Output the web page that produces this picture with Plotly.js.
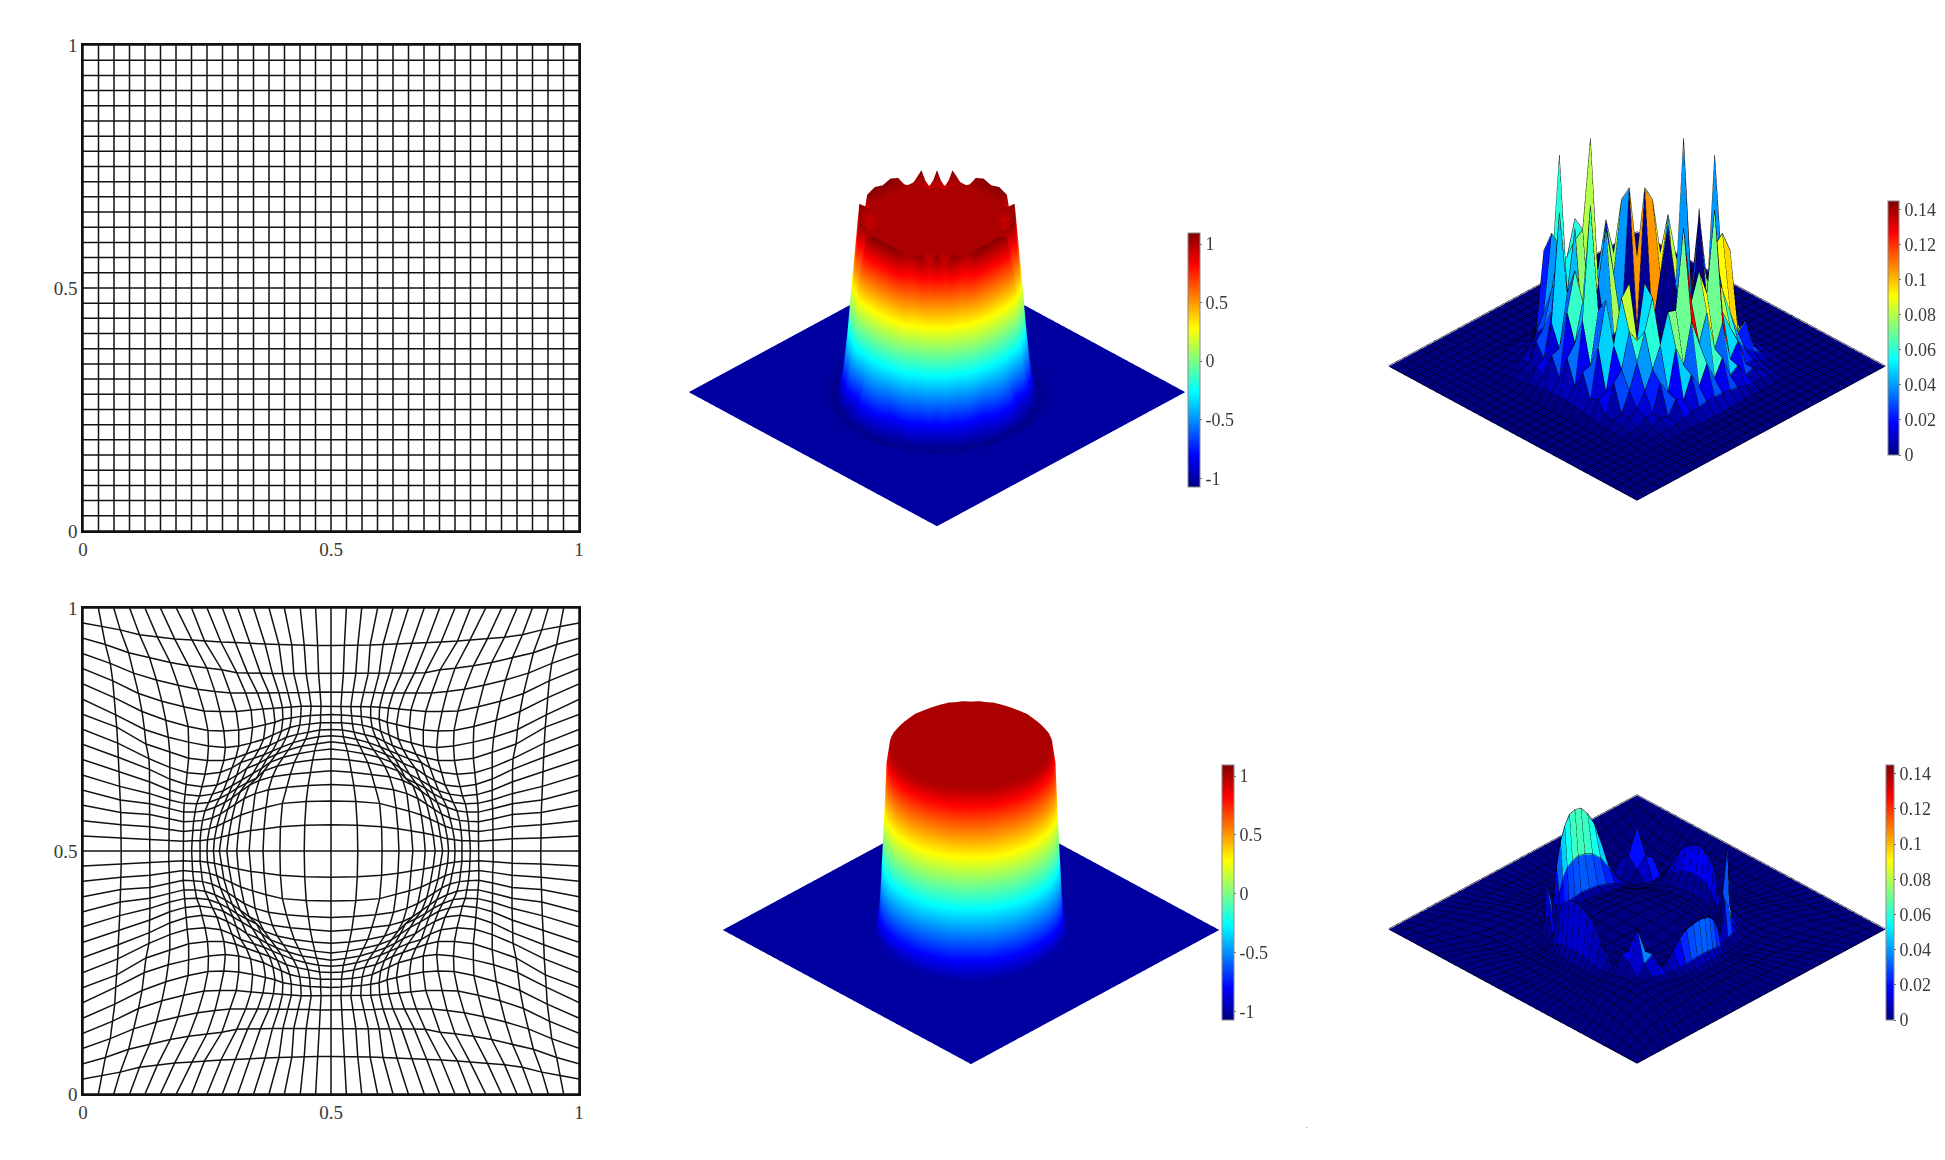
<!DOCTYPE html>
<html><head><meta charset="utf-8"><style>html,body{margin:0;padding:0;background:#fff}</style>
<script src="https://cdn.plot.ly/plotly-3.0.0.min.js"></script></head>
<body><div id="chart" style="width:1945px;height:1160px"></div>
<script>
// uniform mesh node positions (33 per side)
const uniformNodes=[0,.03125,.0625,.09375,.125,.15625,.1875,.21875,.25,.28125,.3125,.34375,.375,.40625,.4375,.46875,.5,.53125,.5625,.59375,.625,.65625,.6875,.71875,.75,.78125,.8125,.84375,.875,.90625,.9375,.96875,1];
// adapted mesh: |x-0.5|*1000 for a quadrant; rows = |j-16|, columns = |i-16|
const adaptedOffset=[
[0,54,103,137,165,190,210,225,237,250,264,281,298,327,365,423,500],
[0,53,102,135,162,187,206,221,235,249,264,280,298,327,365,423,500],
[0,50,98,131,158,182,200,216,230,245,262,279,298,326,365,423,500],
[0,46,90,126,153,175,193,208,223,240,259,277,298,326,365,424,500],
[0,42,82,118,145,165,183,199,214,234,254,274,297,326,365,425,500],
[0,37,74,108,135,150,170,190,206,225,247,271,296,325,365,426,500],
[0,33,66,96,122,140,158,180,198,217,239,265,294,325,365,427,500],
[0,29,58,86,110,129,146,170,190,209,230,260,292,325,366,429,500],
[0,25,51,76,100,118,135,156,182,200,222,254,290,325,367,430,500],
[0,23,46,68,90,108,124,145,171,192,216,249,287,325,373,432,500],
[0,21,43,63,83,100,117,136,162,186,213,247,287,328,376,434,500],
[0,21,42,61,80,97,113,132,158,186,216,248,288,333,381,436,500],
[0,20,40,60,80,98,116,137,161,191,224,256,297,341,388,440,500],
[0,22,44,66,87,105,125,148,172,203,234,269,308,352,398,445,500],
[0,25,50,75,97,118,142,168,190,220,250,287,324,366,408,455,500],
[0,27,54,79,105,133,163,193,222,255,280,315,350,386,425,462,500],
[0,31,62,94,125,156,188,219,250,281,312,344,375,406,438,469,500]];
// solution on uniform mesh, quadrant |a|,|b| = 0..10 around the centre
const solutionUniformCore=[
[1,1,1,1,1,1,1,1.06,-.3,-1.05,-1.01],
[1,1,1,1,1,1,1,1.09,-.4,-1.05,-1.01],
[1,1,1,1,1,1,1,1.05,-.8,-1.07,-1],
[1,1,1,1,1,1,1,.55,-.97,-1.05,-1],
[1,1,1,1,1,.9,1.09,-.4,-1.05,-1.02,-1],
[1,1,1,1,.9,1.09,.2,-.98,-1.06,-1,-1],
[1,1,1,1,1.09,.2,-.95,-1.07,-1.01,-1,-1],
[1.06,1.09,1.05,.55,-.4,-.98,-1.07,-1.02,-1,-1,-1],
[-.3,-.4,-.8,-.97,-1.05,-1.06,-1.01,-1,-1,-1,-1],
[-1.05,-1.05,-1.07,-1.05,-1.02,-1,-1,-1,-1,-1,-1],
[-1.01,-1.01,-1,-1,-1,-1,-1,-1,-1,-1,-1]];
// solution on adapted mesh, quadrant |a|,|b| = 0..11
const solutionAdaptedCore=[
[1,1,1,1,1,1,1,1,.95,0,-.97,-1],
[1,1,1,1,1,1,1,1,.95,0,-.98,-1],
[1,1,1,1,1,1,1,1,.95,.08,-.98,-1],
[1,1,1,1,1,1,1,1,.95,.08,-.99,-1],
[1,1,1,1,1,1,1,1,.95,-.08,-.99,-1],
[1,1,1,1,1,1,1,.99,.93,0,-.98,-1],
[1,1,1,1,1,1,1,.99,.8,0,-.98,-1],
[1,1,1,1,1,.99,.99,.8,.35,-.3,-.99,-1],
[.95,.95,.95,.95,.95,.93,.8,.35,-.55,-.9,-1,-1],
[0,0,.08,.08,-.08,0,0,-.3,-.9,-1,-1,-1],
[-.97,-.98,-.98,-.99,-.99,-.98,-.98,-.99,-1,-1,-1,-1],
[-1,-1,-1,-1,-1,-1,-1,-1,-1,-1,-1,-1]];
// error on uniform mesh x1000; rows j-16 = 10..-10, columns i-16 = -10..10
const errorUniformCore=[
[0,1,1,2,3,3,4,6,7,8,8,8,7,6,4,3,3,2,1,1,0],
[1,1,2,3,4,6,12,17,22,25,25,25,22,17,12,6,4,3,2,1,1],
[1,2,3,5,8,18,50,38,55,60,85,30,45,38,25,18,8,5,3,2,1],
[2,3,8,12,22,80,60,145,30,75,80,145,20,78,50,35,22,12,8,3,2],
[3,6,8,28,40,96,50,45,90,10,3,40,78,40,93,60,40,22,8,6,3],
[3,6,28,35,60,90,30,3,2,2,1,2,2,3,105,50,60,35,28,6,3],
[5,16,18,50,80,30,3,1,1,1,1,1,1,1,3,105,93,50,18,16,5],
[6,12,48,127,40,3,1,1,1,1,1,1,1,1,1,3,40,82,48,12,6],
[7,30,32,70,10,2,1,1,1,1,1,1,1,1,1,2,80,20,32,30,7],
[8,16,62,90,4,2,1,1,1,1,1,1,1,1,1,2,40,145,30,16,8],
[8,34,42,70,3,1,1,1,1,1,1,1,1,1,1,1,3,30,89,34,8],
[8,16,62,145,4,2,1,1,1,1,1,1,1,1,1,2,4,75,42,16,8],
[7,30,32,70,10,2,1,1,1,1,1,1,1,1,1,2,105,20,62,30,7],
[6,12,48,80,40,3,1,1,1,1,1,1,1,1,1,3,40,145,40,12,6],
[5,16,18,50,82,90,3,1,1,1,1,1,1,1,3,30,50,60,70,16,5],
[3,6,28,35,60,50,90,3,2,2,1,2,2,3,30,90,96,80,18,6,3],
[3,6,8,22,40,60,82,40,10,4,3,4,10,40,80,60,40,22,28,6,3],
[2,4,8,12,22,35,50,72,70,128,70,90,70,129,50,35,22,12,8,4,2],
[1,2,3,8,8,28,18,48,32,62,42,62,32,48,18,28,8,8,3,2,1],
[1,1,2,4,8,6,16,12,28,16,30,16,28,12,16,6,8,4,2,1,1],
[0,1,1,2,3,3,4,6,7,8,8,8,7,6,4,3,3,2,1,1,0]];
// error on adapted mesh x1000; rows j-16 = 11..-11, columns i-16 = -11..11
const errorAdaptedCore=[
[0,0,0,0,1,1,1,3,4,5,5,5,5,5,4,3,1,1,1,0,0,0,0],
[0,1,1,1,2,2,4,8,13,15,17,17,17,15,13,8,4,2,2,1,1,1,0],
[0,1,2,10,16,5,16,32,48,57,63,64,63,57,48,32,16,6,18,12,2,1,0],
[0,2,10,35,18,3,8,15,23,28,30,31,30,28,23,15,8,3,20,40,12,2,0],
[0,2,16,18,9,1,1,3,4,5,5,5,5,5,4,3,1,1,10,20,18,2,0],
[0,2,5,2,1,1,0,0,0,0,0,0,0,0,0,0,0,1,1,2,6,2,0],
[1,3,11,5,1,0,0,0,0,0,0,0,0,0,0,0,0,0,1,4,9,2,1],
[2,6,22,10,2,0,0,0,0,0,0,0,0,0,0,0,0,0,1,8,18,5,1],
[3,8,34,15,3,0,0,0,0,0,0,0,0,0,0,0,0,0,2,12,28,7,2],
[3,10,40,18,3,0,0,0,0,0,0,0,0,0,0,0,0,0,3,15,33,8,3],
[4,11,44,20,4,0,0,0,0,0,0,0,0,0,0,0,0,0,3,16,36,9,3],
[4,11,45,20,4,0,0,0,0,0,0,0,0,0,0,0,0,0,3,17,37,9,3],
[4,11,44,20,4,0,0,0,0,0,0,0,0,0,0,0,0,0,3,16,36,9,3],
[3,10,40,18,3,0,0,0,0,0,0,0,0,0,0,0,0,0,3,15,33,8,3],
[3,8,34,15,3,0,0,0,0,0,0,0,0,0,0,0,0,0,2,12,28,7,2],
[2,6,22,10,2,0,0,0,0,0,0,0,0,0,0,0,0,0,1,8,18,5,1],
[1,3,11,5,1,0,0,0,0,0,0,0,0,0,0,0,0,0,1,4,9,2,1],
[0,2,6,2,1,1,0,0,0,0,0,0,0,0,0,0,0,1,1,2,9,2,0],
[0,2,17,18,9,1,1,1,2,2,2,3,2,2,2,1,1,1,15,30,27,3,0],
[0,2,11,37,18,1,4,7,11,13,14,14,14,13,11,7,4,1,30,60,18,3,0],
[0,1,2,11,17,6,8,16,24,29,31,32,31,29,24,16,8,9,27,18,3,1,0],
[0,1,1,2,2,2,2,4,6,7,8,8,8,7,6,4,2,2,3,3,1,1,0],
[0,0,0,0,0,0,0,1,2,2,2,3,2,2,2,1,0,0,0,0,0,0,0]];
const axisTicks=[0,.5,1], axisTickText=['0','0.5','1'];
const solutionTicks=[-1,-.5,0,.5,1], solutionTickText=['-1','-0.5','0','0.5','1'];
const errorTicks=[0,.02,.04,.06,.08,.1,.12,.14], errorTickText=['0','0.02','0.04','0.06','0.08','0.1','0.12','0.14'];
const jet=[[0,'rgb(0,0,128)'],[.125,'rgb(0,0,255)'],[.375,'rgb(0,255,255)'],[.625,'rgb(255,255,0)'],[.875,'rgb(255,0,0)'],[1,'rgb(128,0,0)']];

const W=1945,H=1160,N=33,C=16,FONT='"Liberation Serif","Times New Roman",serif',INK='#3a3a3a';
const idx=[...Array(N).keys()];
const adaptedX=idx.map(j=>idx.map(i=>.5+Math.sign(i-C)*adaptedOffset[Math.abs(j-C)][Math.abs(i-C)]/1000));
const adaptedY=idx.map(j=>idx.map(i=>.5+Math.sign(j-C)*adaptedOffset[Math.abs(i-C)][Math.abs(j-C)]/1000));
const uniformX=idx.map(()=>uniformNodes.slice());
const uniformY=idx.map(j=>idx.map(()=>uniformNodes[j]));
function fromQuadrant(core,fill){const h=core.length-1;return idx.map(j=>idx.map(i=>{const a=Math.abs(i-C),b=Math.abs(j-C);return a<=h&&b<=h?core[b][a]:fill;}));}
function fromRows(core){const h=(core.length-1)/2;return idx.map(j=>idx.map(i=>{const a=i-C,b=j-C;return Math.abs(a)<=h&&Math.abs(b)<=h?core[h-b][a+h]/1000:0;}));}
const zSolU=fromQuadrant(solutionUniformCore,-1), zSolA=fromQuadrant(solutionAdaptedCore,-1);
const zErrU=fromRows(errorUniformCore), zErrA=fromRows(errorAdaptedCore);

function meshLines(X,Y,Z){const xs=[],ys=[],zs=[];
 for(let j=0;j<N;j++){for(let i=0;i<N;i++){xs.push(X[j][i]);ys.push(Y[j][i]);if(Z)zs.push(Z[j][i]);}xs.push(null);ys.push(null);if(Z)zs.push(null);}
 for(let i=0;i<N;i++){for(let j=0;j<N;j++){xs.push(X[j][i]);ys.push(Y[j][i]);if(Z)zs.push(Z[j][i]);}xs.push(null);ys.push(null);if(Z)zs.push(null);}
 return {x:xs,y:ys,z:zs};}
function mesh2d(X,Y,xa,ya){const l=meshLines(X,Y);return {type:'scatter',mode:'lines',x:l.x,y:l.y,xaxis:xa,yaxis:ya,line:{color:'#111',width:1.5},hoverinfo:'skip',showlegend:false};}
const flat={ambient:1,diffuse:0,specular:0,roughness:1,fresnel:0};
function cbar(x,yTop,yBot,thick,vals,text){return {x:x/W,xanchor:'left',xpad:0,ypad:0,y:1-yBot/H,yanchor:'bottom',lenmode:'pixels',len:yBot-yTop,thicknessmode:'pixels',thickness:thick,tickvals:vals,ticktext:text,ticks:'outside',ticklen:2,tickcolor:'#666',tickfont:{family:FONT,size:18,color:INK},outlinecolor:'#888',outlinewidth:1};}
function surf(X,Y,Z,scene,cb){return {type:'surface',x:X,y:Y,z:Z,scene,colorscale:jet,cmin:-1.074,cmax:1.094,lighting:flat,hoverinfo:'skip',colorbar:cb};}
function faceted(X,Y,Z,scene,cb){const xs=[],ys=[],zs=[],I=[],J=[],K=[],col=[];
 for(let j=0;j<N;j++)for(let i=0;i<N;i++){xs.push(X[j][i]);ys.push(Y[j][i]);zs.push(Z[j][i]);}
 for(let j=0;j<N-1;j++)for(let i=0;i<N-1;i++){const p=j*N+i;const c=Z[j+1][i];
  I.push(p,p);J.push(p+1,p+N+1);K.push(p+N+1,p+N);col.push(c,c);}
 return {type:'mesh3d',x:xs,y:ys,z:zs,i:I,j:J,k:K,intensity:col,intensitymode:'cell',scene,colorscale:jet,cmin:0,cmax:.145,flatshading:true,lighting:flat,hoverinfo:'skip',colorbar:cb};}
function wire(X,Y,Z,scene,eps){const l=meshLines(X,Y,Z);return {type:'scatter3d',mode:'lines',x:l.x,y:l.y,z:l.z.map(v=>v===null?null:v+eps),scene,line:{color:'#000',width:1},hoverinfo:'skip',showlegend:false};}

const traces=[
 mesh2d(uniformX,uniformY,'x','y'),mesh2d(adaptedX,adaptedY,'x2','y2'),
 surf(uniformX,uniformY,zSolU,'scene',cbar(1188,233,487,12,solutionTicks,solutionTickText)),
 surf(adaptedX,adaptedY,zSolA,'scene2',cbar(1222,765,1020,12,solutionTicks,solutionTickText)),
 faceted(uniformX,uniformY,zErrU,'scene3',cbar(1888,201,455,11,errorTicks,errorTickText)),
 wire(uniformX,uniformY,zErrU,'scene3',.0006),
 faceted(adaptedX,adaptedY,zErrA,'scene4',cbar(1886,765,1020,8,errorTicks,errorTickText)),
 wire(adaptedX,adaptedY,zErrA,'scene4',.0006)
];
const EYE=1,ZOOM=1.351;
function scene(cx,cy,zr,za){const s=260,off={visible:false,showgrid:false,zeroline:false,showticklabels:false,showspikes:false};
 return {domain:{x:[(cx-s)/W,(cx+s)/W],y:[1-(cy+s)/H,1-(cy-s)/H]},aspectmode:'manual',aspectratio:{x:ZOOM,y:ZOOM,z:za*ZOOM},
  xaxis:{...off,range:[0,1]},yaxis:{...off,range:[0,1]},zaxis:{...off,range:zr},bgcolor:'rgba(0,0,0,0)',
  camera:{eye:{x:-EYE,y:-EYE,z:EYE*.908},center:{x:0,y:0,z:0},up:{x:0,y:0,z:1},projection:{type:'orthographic'}}};}
function ax(dom,anchor,extra){return Object.assign({domain:dom,anchor,range:[0,1],tickvals:axisTicks,ticktext:axisTickText,ticks:'',showgrid:false,zeroline:false,showline:true,mirror:true,linecolor:'#111',linewidth:1.5,tickfont:{family:FONT,size:19,color:INK},automargin:false},extra||{});}
const layout={width:W,height:H,margin:{l:0,r:0,t:0,b:0},paper_bgcolor:'#fff',plot_bgcolor:'#fff',showlegend:false,
 xaxis:ax([83/W,579/W],'y'),yaxis:ax([1-531/H,1-45/H],'x'),
 xaxis2:ax([83/W,579/W],'y2'),yaxis2:ax([1-1094/H,1-608/H],'x2'),
 scene:scene(936.5,306,[-1.1,1.1],.641),
 scene2:scene(971,837,[-1.1,1.1],.692),
 scene3:scene(1636.7,293,[-.04,.15],.86),
 scene4:scene(1636.7,856,[-.04,.15],.86),
 annotations:[{text:'.',xref:'paper',yref:'paper',x:1310/W,y:1-1132/H,showarrow:false,font:{family:FONT,size:7,color:'#555'}}]};
Plotly.newPlot('chart',traces,layout,{displayModeBar:false,staticPlot:false,responsive:false});
</script></body></html>
